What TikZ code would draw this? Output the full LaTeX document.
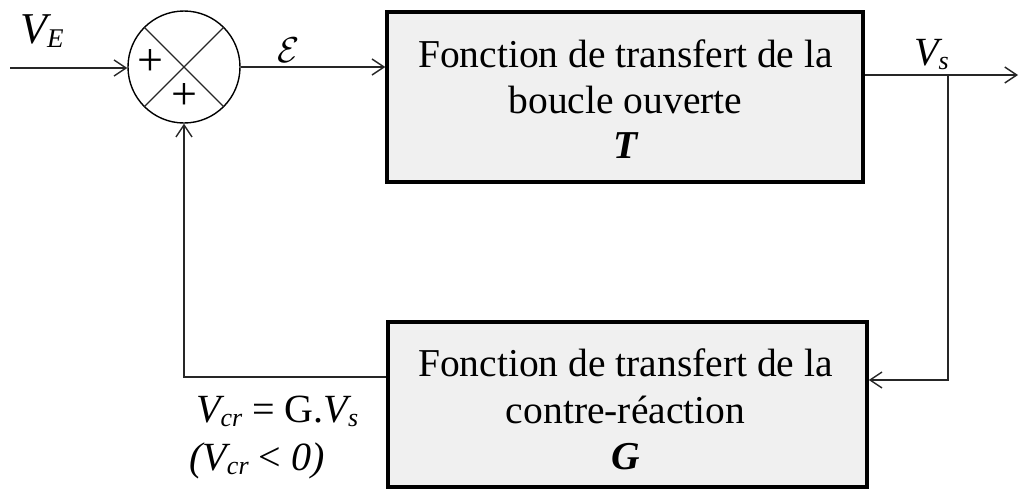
\documentclass[tikz,border=0pt]{standalone}
\usepackage{fontspec}
\setmainfont{Liberation Serif}
\usetikzlibrary{arrows.meta}
\newcommand{\fs}[1]{\fontsize{#1}{#1}\selectfont}
\newcommand{\lowsub}[2]{\raisebox{-4pt}{\fs{#1}\itshape #2}}
\tikzset{
  blockbox/.style={draw=black, line width=3.5pt, fill=boxgray, minimum width=476pt, minimum height=168pt, inner sep=0pt},
  conn/.style={line width=1.4pt, draw=black!85},
  arr/.style={conn, -{Straight Barb[length=12pt,width=16pt,line width=1.4pt]}},
  boxtext/.style={anchor=base, inner sep=0pt, font=\fs{39.5}},
  lbl/.style={anchor=base west, inner sep=0pt},
}
\definecolor{boxgray}{HTML}{F0F0F0}
\begin{document}
\begin{tikzpicture}[x=1pt, y=-1pt]
\useasboundingbox (0,0) rectangle (1019,490);
% blocks
\node[blockbox, minimum width=476pt, minimum height=170pt] (T) at (625,97) {};
\node[blockbox, minimum width=479pt, minimum height=165pt] (G) at (627.5,404.5) {};
% summing junction
\node[draw, line width=1.4pt, circle, minimum size=112pt, inner sep=0pt] (sum) at (184,67) {};
\draw[conn] (sum.45) -- (sum.225);
\draw[conn] (sum.135) -- (sum.-45);
\node[inner sep=0pt, font=\fs{46}] (p1) at (150,63) {+};
\node[inner sep=0pt, font=\fs{46}] (p2) at (184,97) {+};
% texts in blocks
\node[boxtext] (t1) at (625.5,67) {Fonction de transfert de la};
\node[boxtext] (t2) at (625.5,113) {boucle ouverte};
\node[boxtext, font=\fs{39.5}\bfseries\itshape] (t3) at (625.5,158) {T};
\node[boxtext] (g1) at (625.5,376) {Fonction de transfert de la};
\node[boxtext] (g2) at (625.5,423) {contre-réaction};
\node[boxtext, font=\fs{39.5}\bfseries\itshape] (g3) at (625.5,469) {G};
% labels
\node[lbl, font=\fs{44}\itshape] (ve) at (20,43) {V\lowsub{27}{E}};
\node[lbl] (eps) at (277,62) {\scalebox{3.6}{$\mathcal{E}$}};
\node[lbl, font=\fs{40}\itshape] (vs) at (914,65) {V\lowsub{26}{s}};
\node[lbl, font=\fs{40}] (vcr) at (196,422) {\itshape V\lowsub{26}{cr}\upshape\ = G.\itshape V\lowsub{26}{s}};
\node[lbl, font=\fs{40}\itshape] (vneg) at (189,470) {(V\lowsub{26}{cr}\ \upshape<\itshape\ 0)};
% connectors
\coordinate (in) at (10,68);
\coordinate (out) at (1018,75);
\coordinate (br) at (948,75);
\coordinate (c1) at (948,380);
\coordinate (c2) at (184,377);
\draw[arr] (in) -- (sum.west |- in);
\draw[arr] (sum.east) -- (sum.east -| T.west);
\draw[arr] (out -| T.east) -- (out);
\draw[arr] (br) -- (c1) -- (c1 -| G.east);
\draw[arr] (c2 -| G.west) -- (c2) -- (sum.south);
\end{tikzpicture}
\end{document}
